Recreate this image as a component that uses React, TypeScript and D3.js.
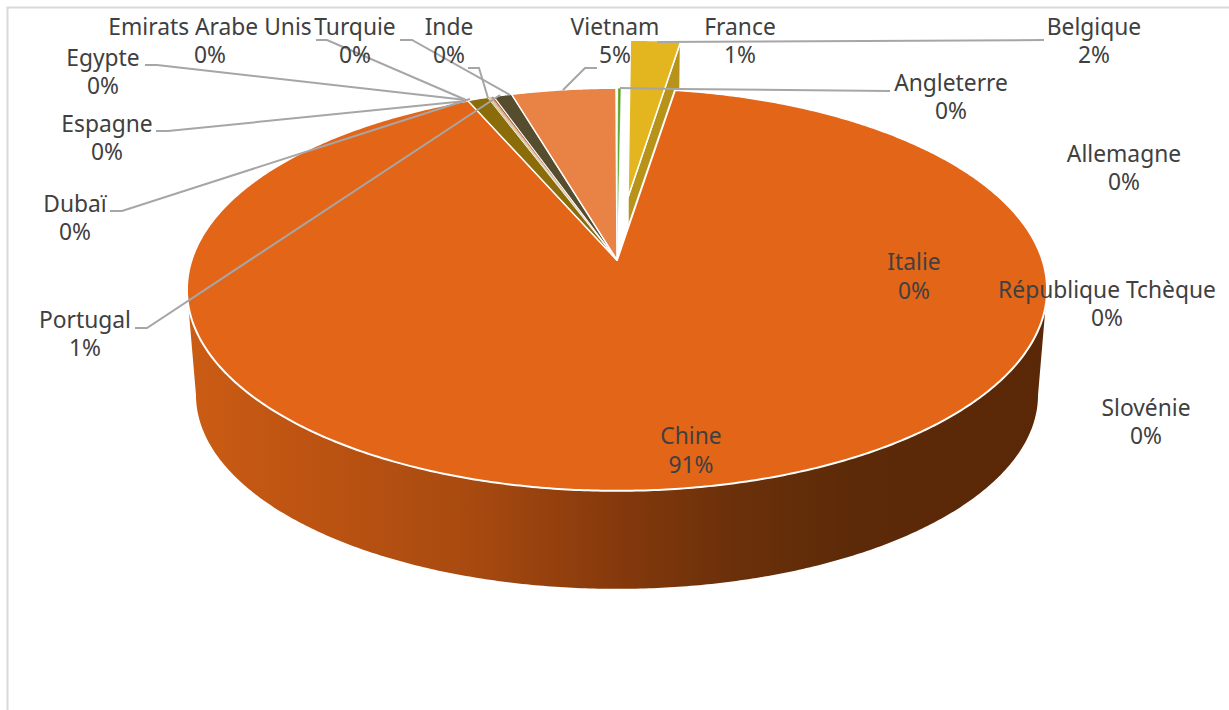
import React from "react";
import * as d3 from "d3";

// Clockwise from 12 o'clock (percent of the pie)
const countries = ["Angleterre","Belgique","France","Allemagne","Italie","République Tchèque","Slovénie","Chine","Portugal","Dubaï","Espagne","Egypte","Emirats Arabe Unis","Turquie","Inde","Vietnam"];
const shares = [0.125,2.25,0.08,0,0,0,0,91,0.89,0.04,0.04,0.04,0.04,0.1,0.79,4.52];
const percentLabels = ["0%","2%","1%","0%","0%","0%","0%","91%","1%","0%","0%","0%","0%","0%","0%","5%"];
const sliceColors = ["#5CA625","#E3B51E","#FFFFFF","#FFFFFF","#FFFFFF","#FFFFFF","#FFFFFF","#E36517","#8A6D0A","#B98A1E","#A6A6A6","#C9A227","#9C5A2C","#B5532A","#564C2E","#E98245"];
const explodedCountry = "Belgique";
const explodeAmount = 0.335;

const W = 1229, H = 710;
const CX = 617, APEX_Y = 260, RX_PLANE = 425.4, RY_PLANE = 197, PERSP = 0.1465;
const ELL_CY = 289.5, LOW_CY = 395, LOW_X = 0.979, LOW_Y = 0.963;

const labelLayout: Record<string,[number,number,number]> = {
  "Belgique":[1094,26,54],"France":[740,26,54],"Vietnam":[615,26,54],"Inde":[449,26,54],
  "Turquie":[355,26,54],"Emirats Arabe Unis":[210,26,54],"Egypte":[103,57,85],"Espagne":[107,123,151],
  "Dubaï":[75,203,231],"Portugal":[85,319,347],"Angleterre":[951,82,110],"Allemagne":[1124,153,181],
  "Italie":[914,261,290],"République Tchèque":[1107,289,317],"Slovénie":[1146,407,435],"Chine":[691,435,464],
};
const leaders: [number,number][][] = [
  [[657,42],[1044,40]],
  [[620,88],[678,89],[890,91]],
  [[597,68],[585,68],[563,90]],
  [[400,40],[412,40],[510,95]],
  [[468,68],[479,68],[488,98]],
  [[316,40],[327,40],[466,100]],
  [[145,65],[157,65],[466,100]],
  [[156,131],[168,131],[466,101]],
  [[110,211],[122,211],[470,99]],
  [[135,328],[147,328],[500,95]],
];
const wallStops: [number,string][] = [[0,"#CB5C14"],[0.13,"#BE5412"],[0.33,"#A84A10"],[0.5,"#85390C"],[0.64,"#6A300A"],[0.78,"#5C2A08"],[1,"#5A2807"]];

type P = [number,number];
function project(theta:number, r:number, eu=0, ev=0):P {
  const u = r*Math.sin(theta)+eu, v = r*Math.cos(theta)+ev;
  const s = 1/(1+PERSP*v);
  return [CX+RX_PLANE*u*s, APEX_Y-RY_PLANE*v*s];
}
const lower = ([x,y]:P):P => [CX+(x-CX)*LOW_X, LOW_CY+(y-ELL_CY)*LOW_Y];
const line = d3.line<P>().x(d=>d[0]).y(d=>d[1]);
const rad = (d:number)=>d*Math.PI/180;
const arcPts = (a:number,b:number,eu=0,ev=0):P[]=>{
  const n = Math.max(2,Math.ceil(Math.abs(b-a)/rad(0.5)));
  return d3.range(n+1).map(i=>project(a+(b-a)*i/n,1,eu,ev));
};
const strokeFor = (value:number)=> value<0.2 ? 0.3 : value<2 ? 1.1 : value>50 ? 2 : 1.5;

export default function App(){
  const arcs = d3.pie<number>().sort(null).startAngle(rad(0.15)).endAngle(rad(359.85))(shares);
  const slices = arcs.map((a,i)=>({a,i,name:countries[i]})).filter(s=>s.a.value>0 && sliceColors[s.i]!=="#FFFFFF");
  const bel = arcs[countries.indexOf(explodedCountry)];
  const mid = (bel.startAngle+bel.endAngle)/2;
  const eu = explodeAmount*Math.sin(mid), ev = explodeAmount*Math.cos(mid);
  const wallA = 2*Math.PI-Math.acos(-PERSP); // left silhouette
  const wallB = Math.acos(-PERSP);
  const front = arcPts(wallA,wallB);
  const wallPath = line([...front,...front.slice().reverse().map(lower)])+"Z";
  const belTop = [project(0,0,eu,ev),...arcPts(bel.startAngle,bel.endAngle,eu,ev)];
  const belApex = project(0,0,eu,ev), belEnd = project(bel.endAngle,1,eu,ev);
  const belWall = [belApex,belEnd,lower(belEnd),lower(belApex)];
  const scaleStop = d3.scaleLinear().domain([0,1]).range([187,1047]);
  return (
    <svg width={W} height={H} style={{position:"absolute",left:0,top:0}} fontFamily="'Noto Sans'" >
      <defs>
        <linearGradient id="wall" gradientUnits="userSpaceOnUse" x1={scaleStop(0)} x2={scaleStop(1)} y1={0} y2={0}>
          {wallStops.map(([o,c])=><stop key={o} offset={o} stopColor={c}/>)}
        </linearGradient>
      </defs>
      <rect width={W} height={H} fill="#fff"/>
      <path d={`M7.5 ${H}V7.5H${W}`} fill="none" stroke="#D9D9D9" strokeWidth={2}/>
      <path d={wallPath} fill="url(#wall)"/>
      <path d={line(belWall)+"Z"} fill="#B8931A" stroke="#fff" strokeWidth={1.5} strokeLinejoin="round"/>
      <path d={line(belTop)+"Z"} fill="#E3B51E" stroke="#fff" strokeWidth={1.5} strokeLinejoin="round"/>
      {slices.filter(s=>s.name!==explodedCountry).map(s=>(
        <path key={s.name} d={line([project(0,0),...arcPts(s.a.startAngle,s.a.endAngle)])+"Z"} fill={sliceColors[s.i]}
          stroke="#fff" strokeWidth={strokeFor(s.a.value)} strokeLinejoin="round"/>
      ))}
      {leaders.map((l,i)=><path key={i} d={line(l)!} fill="none" stroke="#A6A6A6" strokeWidth={2}/>)}
      <g fontSize={22.8} fill="#404040" textAnchor="middle" dominantBaseline="central">
        {countries.map((c,i)=>{const [x,y1,y2]=labelLayout[c];return (
          <g key={c}><text x={x} y={y1}>{c}</text><text x={x} y={y2}>{percentLabels[i]}</text></g>
        );})}
      </g>
    </svg>
  );
}
